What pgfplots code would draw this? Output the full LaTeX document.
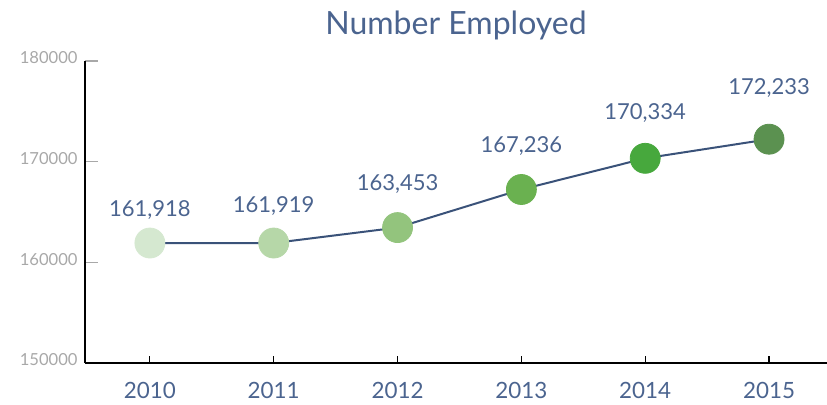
\documentclass[border=0pt]{standalone}
\usepackage{pgfplots}
\usepackage{pgfplotstable}
\pgfplotsset{compat=1.18}
\usepackage{fontspec}
\setmainfont{Lato}

\definecolor{txt}{HTML}{4B648F}
\definecolor{ln}{HTML}{3A5279}
\definecolor{tk}{HTML}{A8A8A8}
\definecolor{c1}{HTML}{D5E8D0}
\definecolor{c2}{HTML}{B6D7A8}
\definecolor{c3}{HTML}{93C47D}
\definecolor{c4}{HTML}{6AB150}
\definecolor{c5}{HTML}{47A83D}
\definecolor{c6}{HTML}{5B9150}

% year index, employed, label text, label offset (pt), colour class
\pgfplotstableread{
x y lab off cls
0 161918 161,918 16.5 a
1 161919 161,919 18.5 b
2 163453 163,453 22 c
3 167236 167,236 21.5 d
4 170334 170,334 22.5 e
5 172233 172,233 25.5 f
}\emp

\begin{document}
\begin{tikzpicture}
\path[use as bounding box] (-42.5pt,-20.5pt) rectangle (371pt,181.5pt);
\begin{axis}[
  at={(0,0)}, anchor=south west,
  scale only axis, width=371pt, height=151pt,
  xmin=-0.524, xmax=5.468, ymin=150000, ymax=180000,
  axis x line=bottom, axis y line=left,
  axis line style={-, black, line width=0.6pt},
  xtick={0,...,5}, xticklabels={2010,2011,2012,2013,2014,2015},
  ytick={150000,160000,170000,180000},
  yticklabels={150000,160000,170000,180000},
  tick align=inside, major tick length=6.5pt,
  ytick style={tk, line width=0.6pt},
  xtick style={draw=none},
  scaled y ticks=false,
  yticklabel style={font=\fontsize{8.3}{10}\selectfont, text=tk, anchor=east, inner sep=0pt, xshift=-3.5pt, yshift=1.5pt},
  xticklabel style={font=\fontsize{11.2}{13}\selectfont, text=txt, anchor=center, yshift=-13.5pt},
  clip=false,
]
\pgfplotsinvokeforeach{0,...,5}{\draw[line width=0.6pt] (axis cs:#1,150000) -- ++(0pt,3.5pt);}
\node[font=\fontsize{16}{18}\selectfont, text=txt] at (rel axis cs:0.5,1) [yshift=18pt] {Number Employed};

\addplot[line width=1pt, color=ln, mark=none,
  point meta=explicit symbolic,
  visualization depends on={\thisrow{off} \as \myoff},
  nodes near coords,
  every node near coord/.append style={anchor=center, yshift=\myoff pt,
    font=\fontsize{11}{13}\selectfont, text=txt},
] table[x=x, y=y, meta=lab] {\emp};

\addplot[scatter, only marks, mark=*, mark size=7.5pt,
  scatter src=explicit symbolic,
  scatter/classes={a={c1}, b={c2}, c={c3}, d={c4}, e={c5}, f={c6}},
] table[x=x, y=y, meta=cls] {\emp};
\end{axis}
\end{tikzpicture}
\end{document}
